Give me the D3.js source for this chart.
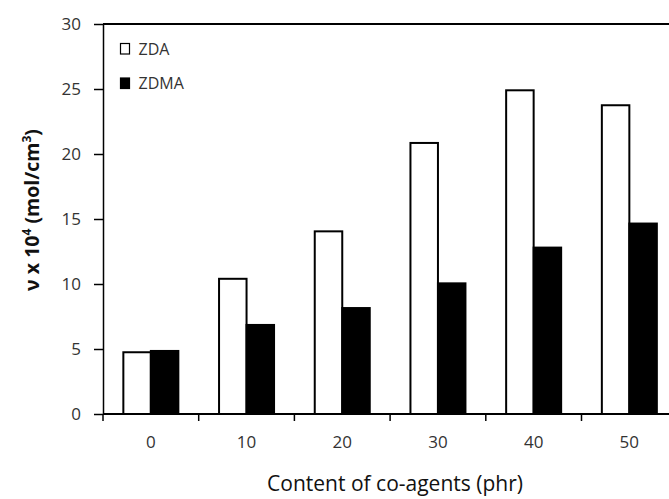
<!DOCTYPE html>
<html><head><meta charset="utf-8">
<script src="https://cdn.jsdelivr.net/npm/d3@7"></script>
<style>body{margin:0;background:#fff}</style>
</head><body>
<svg id="c" width="669" height="499"></svg>
<script>
const categories = ["0","10","20","30","40","50"];
const seriesNames = ["ZDA","ZDMA"];
const zda  = [4.75, 10.4, 14.05, 20.85, 24.9, 23.75];
const zdma = [4.85, 6.85, 8.15, 10.05, 12.8, 14.65];
const yTicks = [0,5,10,15,20,25,30];

const svg = d3.select("#c");
const FONT = "'Open Sans', sans-serif";
const mLeft = 103, mTop = 24, mBottom = 414, bandW = 95.7;
const x = d3.scaleBand().domain(categories).range([mLeft, mLeft + bandW*categories.length]).padding(0);
const y = d3.scaleLinear().domain([0,30]).range([mBottom, mTop]);
const groupW = 55;
const x1 = d3.scaleBand().domain(seriesNames).range([0, groupW]).padding(0);
const fills = {ZDA:"#fff", ZDMA:"#000"};
const data = categories.map((c,i)=>({c, vals:[{s:"ZDA",v:zda[i]},{s:"ZDMA",v:zdma[i]}]}));

// bars
const g = svg.selectAll("g.grp").data(data).join("g").attr("class","grp")
  .attr("transform", d=>`translate(${x(d.c) + (x.bandwidth()-groupW)/2},0)`);
g.selectAll("rect").data(d=>d.vals).join("rect")
  .attr("x", d=>x1(d.s)).attr("width", x1.bandwidth())
  .attr("y", d=>y(d.v)).attr("height", d=>mBottom - y(d.v))
  .attr("fill", d=>fills[d.s]).attr("stroke","#000").attr("stroke-width",2);

// top frame
svg.append("line").attr("x1",mLeft).attr("x2",669).attr("y1",y(30)).attr("y2",y(30))
  .attr("stroke","#000").attr("stroke-width",2);

// y axis
const ya = svg.append("g").attr("transform",`translate(${mLeft},0)`)
  .call(d3.axisLeft(y).tickValues(yTicks).tickSize(9).tickPadding(13).tickSizeOuter(0));
ya.select(".domain").attr("stroke-width",1.5);
ya.selectAll(".tick line").attr("stroke-width",1.5);
ya.selectAll("text").attr("font-family",FONT).attr("font-size",17).attr("fill","#333");

// x axis
const xa = svg.append("g").attr("transform",`translate(0,${mBottom})`);
xa.append("line").attr("x1",mLeft).attr("x2",669).attr("stroke","#000").attr("stroke-width",2);
const bounds = categories.map(c=>x(c)).concat([x(categories[categories.length-1])+x.bandwidth()]);
xa.selectAll("line.t").data(bounds).join("line").attr("class","t")
  .attr("x1",d=>d).attr("x2",d=>d).attr("y1",0).attr("y2",7).attr("stroke","#000").attr("stroke-width",1.5);
xa.selectAll("text").data(categories).join("text")
  .attr("x",d=>x(d)+x.bandwidth()/2).attr("y",34).attr("text-anchor","middle")
  .attr("font-family",FONT).attr("font-size",17).attr("fill","#333").text(d=>d);

// x title
svg.append("text").attr("x",395).attr("y",491).attr("text-anchor","middle")
  .attr("font-family",FONT).attr("font-size",21).attr("fill","#111")
  .text("Content of co-agents (phr)");

// y title
const yt = svg.append("text").attr("transform","translate(39,210) rotate(-90)").attr("text-anchor","middle")
  .attr("font-family",FONT).attr("font-size",19.5).attr("font-weight","bold").attr("fill","#111");
yt.append("tspan").text("ν x 10");
yt.append("tspan").attr("font-size",12).attr("dy",-8).text("4");
yt.append("tspan").attr("dy",8).text(" (mol/cm");
yt.append("tspan").attr("font-size",12).attr("dy",-8).text("3");
yt.append("tspan").attr("dy",8).text(")");

// legend
const leg = svg.selectAll("g.leg").data(seriesNames).join("g").attr("class","leg")
  .attr("transform",(d,i)=>`translate(120.5,${43.5 + i*34.5})`);
leg.append("rect").attr("width",9).attr("height",10.5).attr("fill",d=>fills[d]).attr("stroke","#000").attr("stroke-width",1.2);
leg.append("text").attr("x",18).attr("y",11).attr("font-family",FONT).attr("font-size",16).attr("fill","#333").text(d=>d);
</script>
</body></html>
